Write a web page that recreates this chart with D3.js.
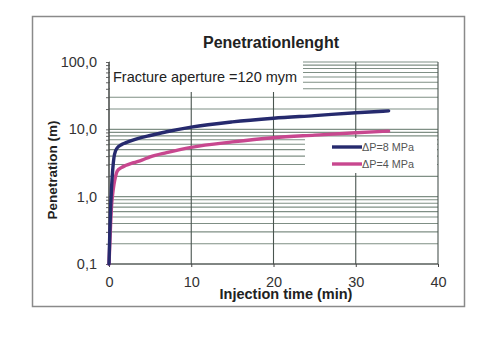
<!DOCTYPE html>
<html><head><meta charset="utf-8">
<script src="https://cdn.jsdelivr.net/npm/d3@7"></script>
<style>body{margin:0;background:#fff}svg{display:block}text{font-family:"Liberation Sans",Arial,sans-serif}</style>
</head><body>
<script>
const title = "Penetrationlenght";
const annotation = "Fracture aperture =120 mym";
const xTicks = [0, 10, 20, 30, 40];
const yTicks = [0.1, 1, 10, 100];
const yTickLabels = ["0,1", "1,0", "10,0", "100,0"];
const seriesNames = ["\u0394P=8 MPa", "\u0394P=4 MPa"];
const time = [0, 0.1, 0.2, 0.3, 0.45, 0.6, 0.8, 1.0, 1.5, 2, 3, 4, 5, 7, 10, 15, 20, 25, 30, 34];
const dp8 = [0.1, 0.3, 0.7, 1.3, 2.5, 3.8, 4.8, 5.3, 5.9, 6.3, 7.0, 7.6, 8.1, 9.2, 10.8, 12.9, 14.6, 16.0, 17.6, 18.8];
const dp4 = [0.1, 0.2, 0.4, 0.7, 1.1, 1.5, 2.0, 2.4, 2.7, 2.9, 3.2, 3.5, 3.9, 4.5, 5.4, 6.5, 7.5, 8.2, 8.9, 9.4];
const colors = ["#262a6e", "#c8478f"];

const W = 494, H = 339;
const svg = d3.select("body").append("svg").attr("width", W).attr("height", H);
svg.append("rect").attr("x", 32.5).attr("y", 16.5).attr("width", 432).attr("height", 290)
  .attr("fill", "#fff").attr("stroke", "#8a8a8a").attr("stroke-width", 1.5);

const L = 109, R = 438, T = 62, B = 264;
const x = d3.scaleLinear().domain([0, 40]).range([L, R]);
const y = d3.scaleLog().domain([0.1, 100]).range([B, T]);

// horizontal grid (all log ticks)
const minor = [];
for (let d = 0.1; d < 100; d *= 10) for (let k = 1; k <= 9; k++) minor.push(+(d * k).toPrecision(3));
minor.push(100);
svg.append("g").selectAll("line").data(minor).join("line")
  .attr("x1", L).attr("x2", R).attr("y1", d => y(d)).attr("y2", d => y(d))
  .attr("stroke", "#7f8f85").attr("stroke-width", 1.1);
// vertical grid
svg.append("g").selectAll("line").data(xTicks).join("line")
  .attr("x1", d => x(d)).attr("x2", d => x(d)).attr("y1", T).attr("y2", B)
  .attr("stroke", "#4a5550").attr("stroke-width", 1.1);

// annotation box & legend box (cover gridlines)
svg.append("rect").attr("x", L + 1).attr("y", T - 1).attr("width", 193).attr("height", 31).attr("fill", "#fff");
svg.append("rect").attr("x", 305).attr("y", 138).attr("width", 132).attr("height", 35).attr("fill", "#fff");

// axes
const yAxis = d3.axisLeft(y).tickValues(minor).tickSize(3).tickFormat("");
const yg = svg.append("g").attr("transform", `translate(${L},0)`).call(yAxis);
yg.selectAll("line,path").attr("stroke", "#666");
yg.select(".domain").remove();
svg.append("line").attr("x1", L).attr("x2", L).attr("y1", T).attr("y2", B).attr("stroke", "#444");
svg.append("line").attr("x1", L).attr("x2", R).attr("y1", B).attr("y2", B).attr("stroke", "#444");
const xAxis = d3.axisBottom(x).tickValues(xTicks).tickSize(3).tickFormat(d => d);
const xg = svg.append("g").attr("transform", `translate(0,${B})`).call(xAxis);
xg.select(".domain").remove();
xg.selectAll("line").attr("stroke", "#444");
xg.selectAll("text").attr("font-size", 14.5).attr("fill", "#333").attr("dy", "0.71em").attr("y", 13)
  .style("font-family", '"Liberation Sans",Arial,sans-serif');

svg.append("g").selectAll("text").data(yTicks).join("text")
  .attr("x", 97).attr("y", d => y(d) + 5).attr("text-anchor", "end")
  .attr("font-size", 14.5).attr("fill", "#333").text((d, i) => yTickLabels[i]);

// lines
const series = [dp8, dp4];
const line = d3.line().x((d, i) => x(time[i])).y(d => y(d)).curve(d3.curveMonotoneX);
series.slice().reverse().forEach((s, j) => {
  const i = series.length - 1 - j;
  svg.append("path").datum(s).attr("d", line).attr("fill", "none")
    .attr("stroke", colors[i]).attr("stroke-width", 3.4).attr("stroke-linecap", "round");
});

// legend
seriesNames.forEach((n, i) => {
  const ly = 147 + i * 17;
  svg.append("line").attr("x1", 332).attr("x2", 362).attr("y1", ly).attr("y2", ly)
    .attr("stroke", colors[i]).attr("stroke-width", 3.4);
  svg.append("text").attr("x", 362).attr("y", ly + 4).attr("font-size", 10.8).attr("fill", "#555").text(n);
});

// texts
svg.append("text").attr("x", 271).attr("y", 48).attr("text-anchor", "middle")
  .attr("font-size", 16).attr("font-weight", "bold").attr("fill", "#222").text(title);
svg.append("text").attr("x", 113).attr("y", 82).attr("font-size", 14.5).attr("fill", "#222").text(annotation);
svg.append("text").attr("x", 286).attr("y", 299).attr("text-anchor", "middle")
  .attr("font-size", 14.5).attr("font-weight", "bold").attr("fill", "#222").text("Injection time (min)");
svg.append("text").attr("transform", "translate(57,170) rotate(-90)").attr("text-anchor", "middle")
  .attr("font-size", 13.5).attr("font-weight", "bold").attr("fill", "#222").text("Penetration (m)");
</script>
</body></html>
